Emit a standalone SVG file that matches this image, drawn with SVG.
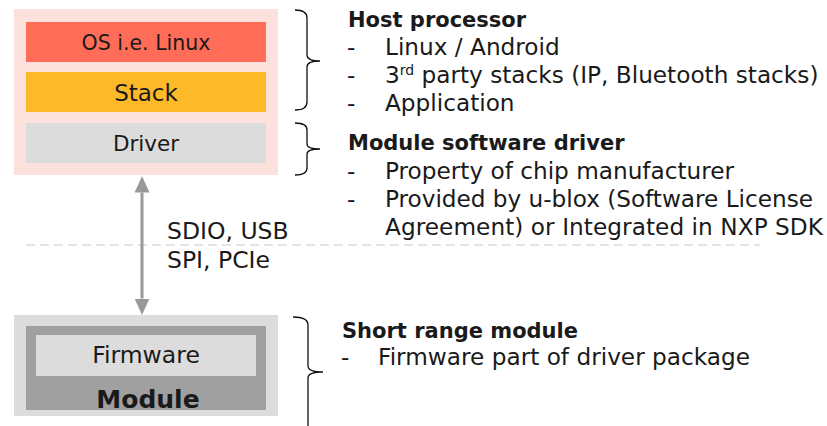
<svg xmlns="http://www.w3.org/2000/svg" width="827" height="426" viewBox="0 0 827 426">
<defs>
<style>
text{font-family:"DejaVu Sans","Noto Sans","Liberation Sans",sans-serif;fill:#1a1a1a}
.box{text-anchor:middle}
.h{font-size:21px;font-weight:bold}
.t{font-size:23.2px}
.brace{fill:none;stroke:#111;stroke-width:1.3}
</style>
<marker id="ah" viewBox="0 0 11 10" refX="0" refY="5" markerWidth="5.5" markerHeight="5" orient="auto-start-reverse" markerUnits="strokeWidth">
<path d="M0,0 L11,5 L0,10 z" fill="#999"/>
</marker>
</defs>
<rect width="827" height="426" fill="#fff"/>
<line x1="26" y1="245" x2="760" y2="245" stroke="#dcdcdc" stroke-width="1.5" stroke-dasharray="9,5"/>
<g id="host">
<rect x="14" y="9" width="264" height="166" fill="#fde1dd"/>
</g>
<g id="os">
<rect x="26" y="22" width="240" height="40" fill="#ff6c58"/>
<text class="box" x="146" y="50" style="font-size:20.5px">OS i.e. Linux</text>
</g>
<g id="stack">
<rect x="26" y="72" width="240" height="40" fill="#fdb928"/>
<text class="box" x="146" y="100.5" style="font-size:23px">Stack</text>
</g>
<g id="driver">
<rect x="26" y="123" width="240" height="40" fill="#dcdcdc"/>
<text class="box" x="146" y="150.5" style="font-size:21.5px">Driver</text>
</g>
<g id="module">
<rect x="14" y="315" width="264" height="101" fill="#dcdcdc"/>
<rect x="26" y="326" width="240" height="84" fill="#a0a0a0"/>
<text class="box" x="148" y="408" style="font-size:25px;font-weight:bold">Module</text>
</g>
<g id="firmware">
<rect x="36" y="335" width="220" height="41" fill="#dcdcdc"/>
<text class="box" x="146" y="363" style="font-size:23.5px">Firmware</text>
</g>
<g id="connectors">
<line x1="142" y1="192.5" x2="142" y2="298.5" stroke="#999" stroke-width="3" marker-start="url(#ah)" marker-end="url(#ah)"/>
<text x="167" y="239" style="font-size:23.5px">SDIO, USB</text>
<text x="167" y="268" style="font-size:23.5px">SPI, PCIe</text>
</g>
<g id="brace-host">
<path class="brace" d="M295,10 Q307,10 307,18 L307,55 Q307,61 320,61 Q307,61 307,67 L307,102 Q307,110 295,110"/>
<text class="h" x="348" y="27">Host processor</text>
<text class="t" x="347" y="55">-</text><text class="t" x="385" y="55">Linux / Android</text>
<text class="t" x="347" y="83">-</text><text class="t" x="385" y="83">3<tspan dy="-8" style="font-size:14px">rd</tspan><tspan dy="8"> party stacks (IP, Bluetooth stacks)</tspan></text>
<text class="t" x="347" y="111">-</text><text class="t" x="385" y="111">Application</text>
</g>
<g id="brace-driver">
<path class="brace" d="M295,123 Q307,123 307,130 L307,144 Q307,149 320,149 Q307,149 307,154 L307,168 Q307,175 295,175"/>
<text class="h" x="348" y="150">Module software driver</text>
<text class="t" x="347" y="179">-</text><text class="t" x="385" y="179">Property of chip manufacturer</text>
<text class="t" x="347" y="207">-</text><text class="t" x="385" y="207" textLength="428">Provided by u-blox (Software License</text>
<text class="t" x="385" y="235" textLength="438">Agreement) or Integrated in NXP SDK</text>
</g>
<g id="brace-module">
<path class="brace" d="M293,317 Q308,317 308,325 L308,366 Q308,372 323,372 Q308,372 308,378 L308,426"/>
<text class="h" x="342" y="338">Short range module</text>
<text class="t" x="341" y="365">-</text><text class="t" x="378" y="365" textLength="372">Firmware part of driver package</text>
</g>
</svg>
